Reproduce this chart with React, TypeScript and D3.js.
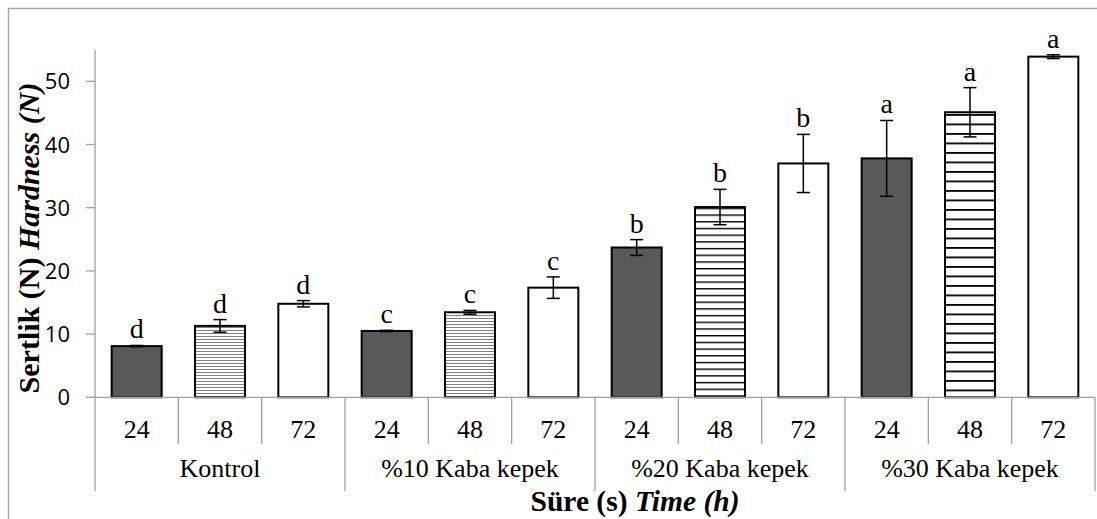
import React, { useEffect, useRef } from "react";
import * as d3 from "d3";

const groups = ["Kontrol", "%10 Kaba kepek", "%20 Kaba kepek", "%30 Kaba kepek"];
const times = ["24", "48", "72"];
const hardness = [8.1, 11.3, 14.8, 10.5, 13.45, 17.35, 23.7, 30.1, 37.0, 37.8, 45.1, 53.9];
const errors = [0.1, 1.0, 0.5, 0.1, 0.3, 1.7, 1.25, 2.8, 4.6, 6.0, 3.9, 0.3];
const letters = ["d", "d", "d", "c", "c", "c", "b", "b", "b", "a", "a", "a"];
const yTicks = [0, 10, 20, 30, 40, 50];

// hatch spacing of the 48 h bars per group (the picture scales them differently)
const hatchSpacing = [3, 3, 6.7, 9.5];
const hatchColor = ["#808080", "#808080", "#000", "#000"];
const hatchWidth = [1, 1, 1.4, 1.8];

const W = 1097,
  H = 519;
const serif = "'Times New Roman', 'Liberation Serif', Times, serif";

const App = () => {
  const svgEl = useRef<SVGSVGElement>(null);

  useEffect(() => {
    const svg = d3.select(svgEl.current);
    svg.selectAll("*").remove();

    const left = 95,
      right = 1095,
      top = 49.7,
      bottom = 397.3;

    const data = hardness.map((v, i) => ({
      v,
      e: errors[i],
      letter: letters[i],
      g: Math.floor(i / 3),
      t: i % 3,
      i,
    }));

    const x = d3
      .scaleBand<number>()
      .domain(d3.range(hardness.length))
      .range([left, right])
      .paddingInner(0.4)
      .paddingOuter(0.2);
    const step = x.step();
    const yScale = d3.scaleLinear().domain([0, 55]).range([bottom, top]);

    const defs = svg.append("defs");
    groups.forEach((g, gi) => {
      const p = defs
        .append("pattern")
        .attr("id", "hatch" + gi)
        .attr("patternUnits", "userSpaceOnUse")
        .attr("width", 10)
        .attr("height", hatchSpacing[gi]);
      p.append("rect").attr("width", 10).attr("height", hatchSpacing[gi]).attr("fill", "#fff");
      p.append("line")
        .attr("x1", 0)
        .attr("x2", 10)
        .attr("y1", hatchWidth[gi] / 2)
        .attr("y2", hatchWidth[gi] / 2)
        .attr("stroke", hatchColor[gi])
        .attr("stroke-width", hatchWidth[gi]);
    });

    // outer chart border
    svg.append("path")
      .attr("d", `M8.5,${H} V8.5 H${W}`)
      .attr("fill", "none")
      .attr("stroke", "#a6a6a6")
      .attr("stroke-width", 1.5);

    // bars
    const fillFor = (d) => (d.t === 0 ? "#595959" : d.t === 1 ? `url(#hatch${d.g})` : "#fff");
    svg.selectAll(".bar")
      .data(data)
      .enter()
      .append("rect")
      .attr("class", "bar")
      .attr("x", (d) => x(d.i))
      .attr("y", (d) => yScale(d.v))
      .attr("width", x.bandwidth())
      .attr("height", (d) => bottom - yScale(d.v))
      .attr("fill", fillFor)
      .attr("stroke", "#000")
      .attr("stroke-width", 2);

    // axes
    const axisColor = "#a0a0a0";
    svg.append("line")
      .attr("x1", left).attr("x2", left)
      .attr("y1", top).attr("y2", bottom)
      .attr("stroke", axisColor).attr("stroke-width", 1.3);
    svg.append("line")
      .attr("x1", left).attr("x2", right)
      .attr("y1", bottom).attr("y2", bottom)
      .attr("stroke", axisColor).attr("stroke-width", 1.3);

    svg.selectAll(".ytick")
      .data(yTicks)
      .enter()
      .append("line")
      .attr("x1", left - 9).attr("x2", left)
      .attr("y1", (d) => yScale(d)).attr("y2", (d) => yScale(d))
      .attr("stroke", axisColor).attr("stroke-width", 1.3);

    svg.selectAll(".ylabel")
      .data(yTicks)
      .enter()
      .append("text")
      .attr("x", 70)
      .attr("y", (d) => yScale(d) + 8)
      .attr("text-anchor", "end")
      .attr("font-family", "'Open Sans', sans-serif")
      .attr("font-size", 22)
      .attr("fill", "#000")
      .text((d) => d);

    // category dividers (short) and group dividers (long)
    d3.range(hardness.length + 1).forEach((k) => {
      const xx = left + k * step;
      const isGroup = k % 3 === 0;
      svg.append("line")
        .attr("x1", xx).attr("x2", xx)
        .attr("y1", bottom).attr("y2", isGroup ? 491 : 444)
        .attr("stroke", axisColor).attr("stroke-width", 1.3);
    });

    // time labels
    svg.selectAll(".tlabel")
      .data(data)
      .enter()
      .append("text")
      .attr("x", (d) => x(d.i) + x.bandwidth() / 2)
      .attr("y", 437.5)
      .attr("text-anchor", "middle")
      .attr("font-family", serif)
      .attr("font-size", 26)
      .text((d) => times[d.t]);

    // group labels
    svg.selectAll(".glabel")
      .data(groups)
      .enter()
      .append("text")
      .attr("x", (d, gi) => left + step * 3 * gi + step * 1.5)
      .attr("y", 477)
      .attr("text-anchor", "middle")
      .attr("font-family", serif)
      .attr("font-size", 26)
      .text((d) => d);

    // error bars
    const eb = svg.selectAll(".err").data(data).enter().append("g");
    const cx = (d) => x(d.i) + x.bandwidth() / 2;
    eb.append("line")
      .attr("x1", cx).attr("x2", cx)
      .attr("y1", (d) => yScale(d.v + d.e)).attr("y2", (d) => yScale(d.v - d.e))
      .attr("stroke", "#000").attr("stroke-width", 1.5);
    [1, -1].forEach((s) => {
      eb.append("line")
        .attr("x1", (d) => cx(d) - 6.5).attr("x2", (d) => cx(d) + 6.5)
        .attr("y1", (d) => yScale(d.v + s * d.e)).attr("y2", (d) => yScale(d.v + s * d.e))
        .attr("stroke", "#000").attr("stroke-width", 1.5);
    });

    // significance letters
    svg.selectAll(".letter")
      .data(data)
      .enter()
      .append("text")
      .attr("x", cx)
      .attr("y", (d) => yScale(d.v + d.e) - 7)
      .attr("text-anchor", "middle")
      .attr("font-family", serif)
      .attr("font-size", 28)
      .text((d) => d.letter);

    // axis titles
    const xt = svg.append("text")
      .attr("x", 635)
      .attr("y", 511)
      .attr("text-anchor", "middle")
      .attr("font-family", serif)
      .attr("font-size", 29.5)
      .attr("font-weight", "bold");
    xt.append("tspan").text("Süre (s) ");
    xt.append("tspan").attr("font-style", "italic").text("Time (h)");

    const yt = svg.append("text")
      .attr("transform", "translate(39,238) rotate(-90)")
      .attr("text-anchor", "middle")
      .attr("font-family", serif)
      .attr("font-size", 30)
      .attr("font-weight", "bold");
    yt.append("tspan").text("Sertlik (N) ");
    yt.append("tspan").attr("font-style", "italic").text("Hardness (N)");
  }, [svgEl]);

  return (
    <svg
      ref={svgEl}
      width={W}
      height={H}
      style={{ position: "absolute", left: 0, top: 0, background: "#fff" }}
    ></svg>
  );
};

export default App;
